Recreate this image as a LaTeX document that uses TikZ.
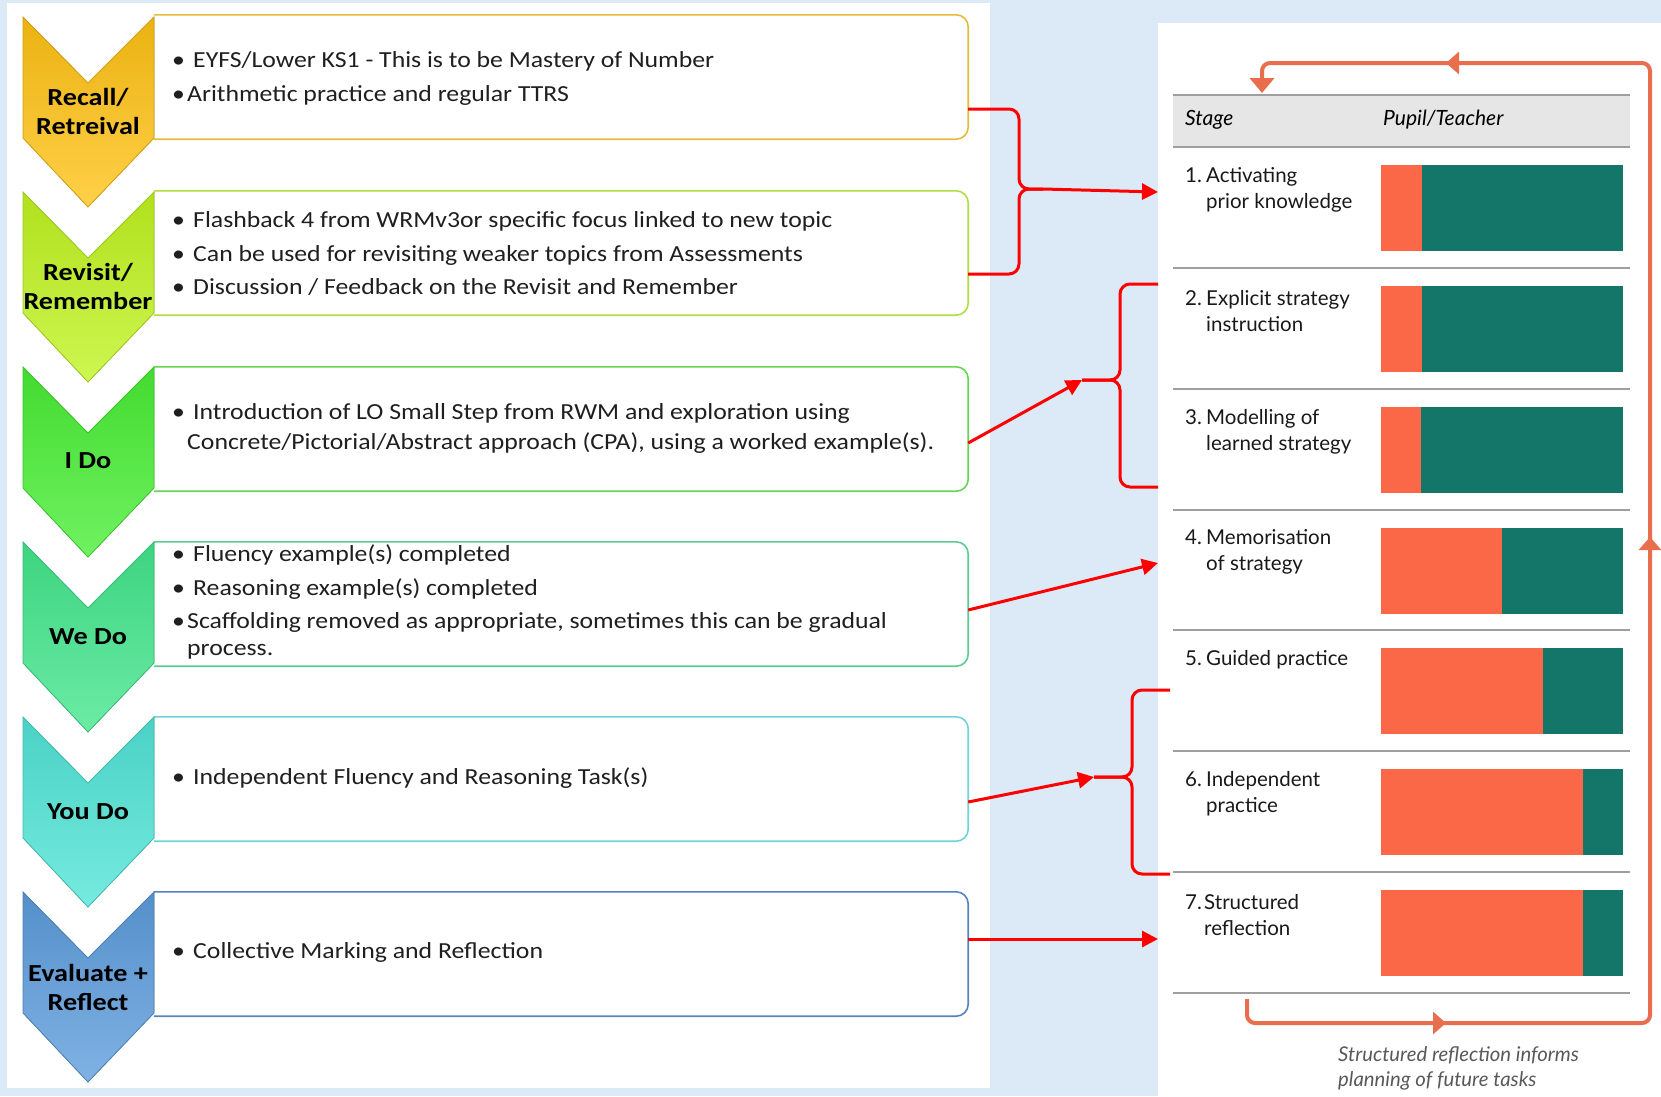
\documentclass[tikz,border=0pt]{standalone}
\usepackage{fontspec}
\setmainfont{Carlito}[FakeStretch=1.12]
\newfontfamily\chevfont{Carlito}[FakeStretch=1.15]
\newfontfamily\latofont{Lato}
\usetikzlibrary{arrows.meta, positioning}

\definecolor{bgblue}{RGB}{220,233,246}
\definecolor{chevA}{RGB}{255,194,20}
\definecolor{chevB}{RGB}{192,244,32}
\definecolor{chevC}{RGB}{72,238,52}
\definecolor{chevD}{RGB}{66,230,140}
\definecolor{chevE}{RGB}{80,228,214}
\definecolor{chevF}{RGB}{92,156,220}
\definecolor{lineA}{RGB}{228,188,60}
\definecolor{lineB}{RGB}{176,222,64}
\definecolor{lineC}{RGB}{104,212,84}
\definecolor{lineD}{RGB}{92,204,144}
\definecolor{lineE}{RGB}{112,212,212}
\definecolor{lineF}{RGB}{84,132,192}
\definecolor{headgray}{RGB}{230,230,230}
\definecolor{pupil}{RGB}{250,104,72}
\definecolor{teacher}{RGB}{20,118,104}
\definecolor{loopcol}{RGB}{232,110,78}

\begin{document}
\begin{tikzpicture}[
    x=1pt, y=-1pt,
    chev/.style={top color=#1!92!black, middle color=#1, bottom color=#1!78!white, draw=#1!82!black, line width=0.8pt},
    chevlabel/.style={font=\chevfont\bfseries\fontsize{24.5}{29}\selectfont, align=center, inner sep=0pt},
    textbox/.style={rectangle, minimum width=814pt, minimum height=124pt, inner sep=0pt},
    boxline/.style={draw=#1, line width=1.6pt, rounded corners=12pt},
    listtext/.style={anchor=west, align=left, inner sep=0pt, font=\fontsize{23}{28}\selectfont, text=black!88},
    stagetext/.style={anchor=west, align=left, inner sep=0pt, font=\latofont\fontsize{20.5}{26}\selectfont, text=black!90},
    headtext/.style={anchor=west, inner sep=0pt, font=\latofont\itshape\fontsize{21}{25}\selectfont},
    rowline/.style={draw=gray!75, line width=1.8pt},
    redline/.style={draw=red, line width=3pt, rounded corners=10pt},
    redarrow/.style={draw=red, line width=3pt, -{Triangle[length=16pt, width=16pt]}},
    loopline/.style={draw=loopcol, line width=4pt, rounded corners=8pt},
    midtip/.style={-{Triangle[length=13pt, width=22pt]}},
  ]
  \useasboundingbox (0,0) rectangle (1661,1096);
  \fill[bgblue] (0,0) rectangle (1661,1096);

  \node[fill=white, minimum width=983pt, minimum height=1085pt, inner sep=0pt] (leftpanel) at (498.5,545.5) {};
  \node[fill=white, minimum width=503pt, minimum height=1073pt, inner sep=0pt] (tablepanel) at (1409.5,559.5) {};

  % text boxes
  \node[textbox] (box1) at (561,77) {};
  \node[textbox] (box2) at (561,253) {};
  \node[textbox] (box3) at (561,429) {};
  \node[textbox] (box4) at (561,604) {};
  \node[textbox] (box5) at (561,779) {};
  \node[textbox] (box6) at (561,954) {};
  \draw[boxline=lineA] (box1.north west) -- (box1.north east) -- (box1.south east) -- (box1.south west);
  \draw[boxline=lineB] (box2.north west) -- (box2.north east) -- (box2.south east) -- (box2.south west);
  \draw[boxline=lineC] (box3.north west) -- (box3.north east) -- (box3.south east) -- (box3.south west);
  \draw[boxline=lineD] (box4.north west) -- (box4.north east) -- (box4.south east) -- (box4.south west);
  \draw[boxline=lineE] (box5.north west) -- (box5.north east) -- (box5.south east) -- (box5.south west);
  \draw[boxline=lineF] (box6.north west) -- (box6.north east) -- (box6.south east) -- (box6.south west);

  \node[listtext] (list1) at (172,78) {\makebox[21pt][l]{\textbullet}EYFS/Lower KS1 - This is to be Mastery of Number\\[6pt]
    \makebox[15pt][l]{\textbullet}Arithmetic practice and regular TTRS};
  \node[listtext] (list2) at (172,253) {\makebox[21pt][l]{\textbullet}Flashback 4 from WRMv3or specific focus linked to new topic\\[6pt]
    \makebox[21pt][l]{\textbullet}Can be used for revisiting weaker topics from Assessments\\[5pt]
    \makebox[21pt][l]{\textbullet}Discussion / Feedback on the Revisit and Remember};
  \node[listtext] (list3) at (172,428) {\makebox[21pt][l]{\textbullet}Introduction of LO Small Step from RWM and exploration using\\[2pt]
    \hspace*{15pt}Concrete/Pictorial/Abstract approach (CPA), using a worked example(s).};
  \node[listtext] (list4) at (172,602) {\makebox[21pt][l]{\textbullet}Fluency example(s) completed\\[6pt]
    \makebox[21pt][l]{\textbullet}Reasoning example(s) completed\\[5pt]
    \makebox[15pt][l]{\textbullet}Scaffolding removed as appropriate, sometimes this can be gradual\\[-1pt]
    \hspace*{15pt}process.};
  \node[listtext] (list5) at (172,778) {\makebox[21pt][l]{\textbullet}Independent Fluency and Reasoning Task(s)};
  \node[listtext] (list6) at (172,952) {\makebox[21pt][l]{\textbullet}Collective Marking and Reflection};

  % chevrons
  \filldraw[chev=chevA] (23,17) -- (88,83) -- (154,17) -- (154,138) -- (88,207) -- (23,138) -- cycle;
  \filldraw[chev=chevB] (23,192) -- (88,258) -- (154,192) -- (154,313) -- (88,382) -- (23,313) -- cycle;
  \filldraw[chev=chevC] (23,367) -- (88,433) -- (154,367) -- (154,488) -- (88,557) -- (23,488) -- cycle;
  \filldraw[chev=chevD] (23,542) -- (88,608) -- (154,542) -- (154,663) -- (88,732) -- (23,663) -- cycle;
  \filldraw[chev=chevE] (23,717) -- (88,783) -- (154,717) -- (154,838) -- (88,907) -- (23,838) -- cycle;
  \filldraw[chev=chevF] (23,892) -- (88,958) -- (154,892) -- (154,1013) -- (88,1082) -- (23,1013) -- cycle;
  \node[chevlabel] (recall) at (88,111) {Recall/\\Retreival};
  \node[chevlabel] (revisit) at (88,286) {Revisit/\\Remember};
  \node[chevlabel] (ido) at (88,461) {I Do};
  \node[chevlabel] (wedo) at (88,637) {We Do};
  \node[chevlabel] (youdo) at (88,812) {You Do};
  \node[chevlabel] (evaluate) at (88,987) {Evaluate +\\Reflect};

  % table
  \node[fill=headgray, minimum width=457pt, minimum height=52pt, inner sep=0pt] (head) at (1401.5,121) {};
  \node[headtext] (stagehead) at (1185,120) {Stage};
  \node[headtext] (ptHead) at (1383,120) {Pupil/Teacher};
  \draw[rowline] (head.north west) -- (head.north east) (head.south west) -- (head.south east)
    (1173,268) -- (1630,268) (1173,389) -- (1630,389) (1173,510) -- (1630,510)
    (1173,630) -- (1630,630) (1173,751) -- (1630,751) (1173,872) -- (1630,872)
    (1173,993) -- (1630,993);

  \fill[pupil] (1381,165) rectangle (1422,251);   \fill[teacher] (1422,165) rectangle (1623,251);
  \fill[pupil] (1381,286) rectangle (1422,372);   \fill[teacher] (1422,286) rectangle (1623,372);
  \fill[pupil] (1381,407) rectangle (1421,493);   \fill[teacher] (1421,407) rectangle (1623,493);
  \fill[pupil] (1381,528) rectangle (1502,614);   \fill[teacher] (1502,528) rectangle (1623,614);
  \fill[pupil] (1381,648) rectangle (1543,734);   \fill[teacher] (1543,648) rectangle (1623,734);
  \fill[pupil] (1381,769) rectangle (1583,855);   \fill[teacher] (1583,769) rectangle (1623,855);
  \fill[pupil] (1381,890) rectangle (1583,976);   \fill[teacher] (1583,890) rectangle (1623,976);

  \node[stagetext] (stage1) at (1185,190) {\makebox[21pt][l]{1.}Activating\\\hspace*{21pt}prior knowledge};
  \node[stagetext] (stage2) at (1185,311) {\makebox[21pt][l]{2.}Explicit strategy\\\hspace*{21pt}instruction};
  \node[stagetext] (stage3) at (1185,432) {\makebox[21pt][l]{3.}Modelling of\\\hspace*{21pt}learned strategy};
  \node[stagetext] (stage4) at (1185,552) {\makebox[21pt][l]{4.}Memorisation\\\hspace*{21pt}of strategy};
  \node[stagetext] (stage5) at (1185,660) {\makebox[21pt][l]{5.}Guided practice};
  \node[stagetext] (stage6) at (1185,794) {\makebox[21pt][l]{6.}Independent\\\hspace*{21pt}practice};
  \node[stagetext] (stage7) at (1185,915) {\makebox[19pt][l]{7.}Structured\\\hspace*{19pt}reflection};

  \node[anchor=west, align=left, inner sep=0pt, text=black!65, font=\latofont\itshape\fontsize{20.3}{25}\selectfont]
    (caption) at (1338,1068) {Structured reflection informs\\planning of future tasks};

  % feedback loop
  \coordinate (fbstart) at (1247,999);
  \coordinate (fbend) at (1262,93);
  \draw[loopline, midtip] (fbstart) |- (1446,1023);
  \draw[loopline, midtip] (1440,1023) -| (1650,537);
  \draw[loopline, midtip] (1650,545) |- (1446,63);
  \draw[loopline, -{Triangle[length=15pt, width=24pt]}] (1452,63) -| (fbend);

  % red connectors
  \coordinate (tip1) at (1043,189);
  \coordinate (in1) at (1158,192);
  \coordinate (tip2) at (1082,380);
  \coordinate (b2top) at (1158,284);
  \coordinate (b2bot) at (1158,487);
  \coordinate (in4) at (1158,563);
  \coordinate (tip3) at (1094,777);
  \coordinate (b3top) at (1170,690);
  \coordinate (b3bot) at (1170,874);
  \coordinate (in7) at (1158,939);

  \draw[redline] ([yshift=-32pt]box1.east) -| (1019,189) -- (tip1);
  \draw[redline] ([yshift=-21pt]box2.east) -| (1019,189) -- (tip1);
  \draw[redarrow] (tip1) -- (in1);
  \draw[redline] (b2top) -| (1120,380) -- (tip2);
  \draw[redline] (b2bot) -| (1120,380) -- (tip2);
  \draw[redarrow] ([yshift=-14pt]box3.east) -- (tip2);
  \draw[redarrow] ([yshift=-6pt]box4.east) -- (in4);
  \draw[redline] (b3top) -| (1132,777) -- (tip3);
  \draw[redline] (b3bot) -| (1132,777) -- (tip3);
  \draw[redarrow] ([yshift=-23pt]box5.east) -- (tip3);
  \draw[redarrow] ([yshift=15pt]box6.east) -- (in7);
\end{tikzpicture}
\end{document}
